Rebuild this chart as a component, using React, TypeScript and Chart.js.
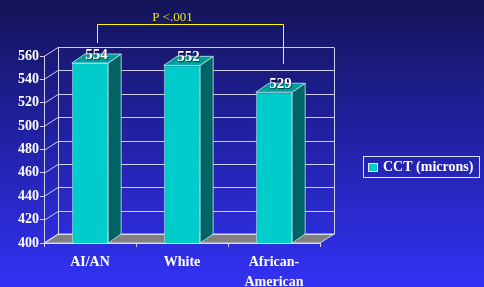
import React, { useEffect, useRef } from "react";
import { Chart, registerables } from "chart.js";

Chart.register(...registerables);

// ---- Data ----
const categories: (string | string[])[] = ["AI/AN", "White", ["African-", "American"]];
const cctValues: number[] = [554, 552, 529];
const seriesLabel = "CCT (microns)";
const yMin = 400;
const yMax = 560;
const yStep = 20;
const pValueText = "P <.001";

// ---- Style ----
const FONT = "'Liberation Serif', 'Times New Roman', serif";
const GRID = "rgba(225,225,250,0.9)";
const FRONT = "#00CCCC";
const SIDE = "#006464";
const TOP = "#009C9C";
const WALL_DX = 14;
const WALL_DY = -9;
const BAR_DX = 13;
const BAR_DY = -9;

const depthPlugin = {
  id: "depth3d",
  beforeDatasetsDraw(chart: any) {
    const { ctx, chartArea, scales } = chart;
    const { left, right, bottom, top } = chartArea;
    const y = scales.y;
    ctx.save();
    ctx.lineWidth = 1;
    ctx.strokeStyle = GRID;
    // floor
    ctx.fillStyle = "#808080";
    ctx.beginPath();
    ctx.moveTo(left, bottom);
    ctx.lineTo(right, bottom);
    ctx.lineTo(right + WALL_DX, bottom + WALL_DY);
    ctx.lineTo(left + WALL_DX, bottom + WALL_DY);
    ctx.closePath();
    ctx.fill();
    ctx.stroke();
    // back wall + side wall grid lines
    for (let v = yMin; v <= yMax; v += yStep) {
      const py = Math.round(y.getPixelForValue(v)) + 0.5;
      ctx.beginPath();
      ctx.moveTo(left + WALL_DX, py + WALL_DY);
      ctx.lineTo(right + WALL_DX, py + WALL_DY);
      ctx.moveTo(left, py);
      ctx.lineTo(left + WALL_DX, py + WALL_DY);
      ctx.stroke();
    }
    const tY = Math.round(top) + 0.5 + WALL_DY;
    const bY = Math.round(bottom) + 0.5 + WALL_DY;
    ctx.beginPath();
    ctx.moveTo(Math.round(left + WALL_DX) + 0.5, tY);
    ctx.lineTo(Math.round(left + WALL_DX) + 0.5, bY);
    ctx.moveTo(Math.round(right + WALL_DX) + 0.5, tY);
    ctx.lineTo(Math.round(right + WALL_DX) + 0.5, bY);
    ctx.stroke();
    ctx.restore();
  },
  afterDatasetsDraw(chart: any) {
    const { ctx, chartArea } = chart;
    const meta = chart.getDatasetMeta(0);
    const data = chart.data.datasets[0].data;
    ctx.save();
    ctx.lineWidth = 1;
    ctx.strokeStyle = "rgba(190,235,235,0.8)";
    meta.data.forEach((bar: any, i: number) => {
      const p = bar.getProps(["x", "y", "base", "width"], true);
      const x = p.x;
      const y = p.y;
      const width = p.width;
      const base = Math.min(p.base, chartArea.bottom);
      const l = x - width / 2;
      const r = x + width / 2;
      // side
      ctx.fillStyle = SIDE;
      ctx.beginPath();
      ctx.moveTo(r, y);
      ctx.lineTo(r + BAR_DX, y + BAR_DY);
      ctx.lineTo(r + BAR_DX, base + BAR_DY);
      ctx.lineTo(r, base);
      ctx.closePath();
      ctx.fill();
      ctx.stroke();
      // top
      ctx.fillStyle = TOP;
      ctx.beginPath();
      ctx.moveTo(l, y);
      ctx.lineTo(r, y);
      ctx.lineTo(r + BAR_DX, y + BAR_DY);
      ctx.lineTo(l + BAR_DX, y + BAR_DY);
      ctx.closePath();
      ctx.fill();
      ctx.stroke();
      // value label
      ctx.save();
      ctx.font = `bold 15px ${FONT}`;
      ctx.fillStyle = "#ffffff";
      ctx.textAlign = "center";
      ctx.textBaseline = "middle";
      ctx.shadowColor = "rgba(0,0,0,0.55)";
      ctx.shadowOffsetX = 1;
      ctx.shadowOffsetY = 1;
      ctx.fillText(String(data[i]), x + BAR_DX / 2, y - 8);
      ctx.restore();
    });
    ctx.restore();
  },
  afterDraw(chart: any) {
    const { ctx, chartArea } = chart;
    const meta = chart.getDatasetMeta(0);
    const b0 = meta.data[0];
    const b2 = meta.data[2];
    // significance bracket
    const xL = Math.round(b0.x + BAR_DX / 2) + 0.5;
    const xR = Math.round(b2.x + BAR_DX / 2 + 2) + 0.5;
    const yTop = Math.round(chartArea.top - 32) + 0.5;
    ctx.save();
    ctx.strokeStyle = "#ffff00";
    ctx.lineWidth = 1;
    ctx.beginPath();
    ctx.moveTo(xL, Math.round(chartArea.top - 13));
    ctx.lineTo(xL, yTop);
    ctx.lineTo(xR, yTop);
    ctx.lineTo(xR, Math.round(b2.y - 28));
    ctx.stroke();
    ctx.font = `13px ${FONT}`;
    ctx.fillStyle = "#e2e22a";
    ctx.textAlign = "center";
    ctx.textBaseline = "alphabetic";
    ctx.fillText(pValueText, xL + 75, yTop - 3.5);
    // legend
    const lx = 363.5, ly = 156.5, lw = 116, lh = 21;
    ctx.strokeStyle = "rgba(235,235,255,0.95)";
    ctx.strokeRect(lx, ly, lw, lh);
    ctx.fillStyle = FRONT;
    ctx.fillRect(368, 163, 10, 9);
    ctx.strokeStyle = "#e8e8ff";
    ctx.strokeRect(368.5, 163.5, 9, 8);
    ctx.font = `bold 14px ${FONT}`;
    ctx.fillStyle = "#ffffff";
    ctx.textAlign = "left";
    ctx.textBaseline = "middle";
    ctx.fillText(chart.data.datasets[0].label, 383, 167.5);
    ctx.restore();
  },
};

export default function App() {
  const ref = useRef<HTMLCanvasElement>(null);
  useEffect(() => {
    if (!ref.current) return;
    const chart = new Chart(ref.current, {
      type: "bar",
      data: {
        labels: categories,
        datasets: [
          {
            label: seriesLabel,
            data: cctValues,
            backgroundColor: FRONT,
            borderColor: "rgba(190,235,235,0.8)",
            borderWidth: 1,
            barPercentage: 0.79,
            categoryPercentage: 0.5,
          },
        ],
      },
      options: {
        responsive: false,
        animation: false,
        devicePixelRatio: 1,
        layout: { padding: { left: 0, right: 164, top: 56, bottom: 0 } },
        plugins: {
          legend: { display: false },
          tooltip: { enabled: false },
          title: { display: false },
        },
        scales: {
          x: {
            offset: true,
            afterFit: (s: any) => {
              s.height = 44;
            },
            grid: {
              drawOnChartArea: false,
              drawTicks: true,
              tickLength: 4,
              color: GRID,
              offset: true,
            },
            border: { display: true, color: GRID },
            ticks: {
              color: "#ffffff",
              padding: 5,
              maxRotation: 0,
              font: { family: FONT, size: 14, weight: "bold", lineHeight: 1.43 },
            },
          },
          y: {
            min: yMin,
            max: yMax,
            beginAtZero: false,
            afterFit: (s: any) => {
              s.width = 44;
            },
            grid: {
              drawOnChartArea: false,
              drawTicks: true,
              tickLength: 4,
              color: GRID,
            },
            border: { display: true, color: GRID },
            ticks: {
              stepSize: yStep,
              color: "#ffffff",
              padding: 1,
              font: { family: FONT, size: 14, weight: "bold" },
            },
          },
        },
      },
      plugins: [depthPlugin],
    } as any);
    return () => chart.destroy();
  }, []);
  return (
    <div
      style={{
        position: "fixed",
        left: 0,
        top: 0,
        width: 484,
        height: 287,
        background: "linear-gradient(180deg, #141458 0%, #2222a8 50%, #3232f5 100%)",
      }}
    >
      <canvas ref={ref} width={484} height={287} style={{ display: "block", width: 484, height: 287 }} />
    </div>
  );
}
